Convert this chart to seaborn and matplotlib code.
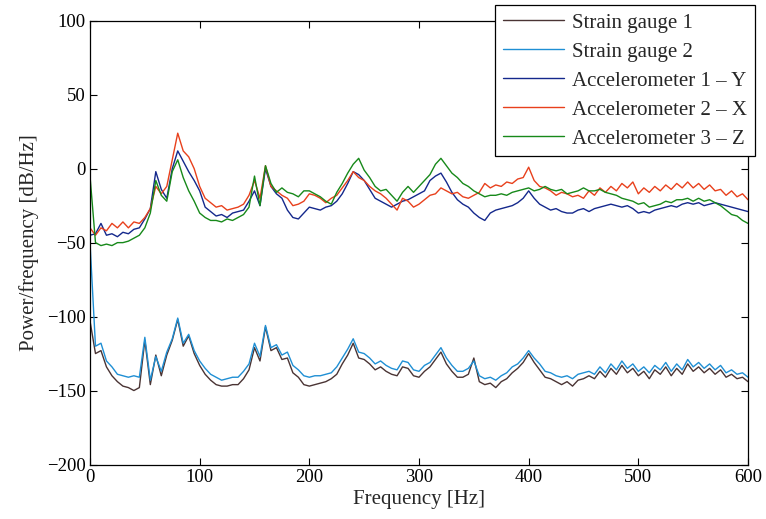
import numpy as np
import pandas as pd
import matplotlib
matplotlib.use("Agg")
import matplotlib.pyplot as plt
import seaborn as sns

# Frequency grid [Hz]
freq = list(range(0, 601, 5))

# Power spectral density estimates [dB/Hz]
strain_gauge_1 = [
    -103, -125, -123, -134, -140, -144, -147, -148, -150, -148,
    -116, -146, -126, -140, -126, -116, -102, -120, -113, -125,
    -133, -139, -143, -146, -147, -147, -146, -146, -142, -136,
    -121, -130, -107, -123, -121, -129, -128, -138, -141, -146,
    -147, -146, -145, -144, -142, -139, -132, -126, -118, -128,
    -129, -132, -136, -134, -137, -139, -140, -134, -135, -140,
    -141, -137, -134, -129, -124, -132, -137, -141, -141, -139,
    -128, -144, -146, -145, -148, -144, -142, -138, -135, -131,
    -125, -131, -136, -141, -142, -144, -146, -144, -147, -143,
    -142, -140, -142, -137, -141, -135, -139, -133, -138, -135,
    -140, -137, -142, -136, -139, -134, -140, -135, -139, -132,
    -137, -134, -138, -135, -139, -136, -141, -139, -142, -141,
    -144,
]
strain_gauge_2 = [
    -50, -120, -118, -130, -134, -139, -140, -141, -140, -141,
    -114, -143, -127, -137, -124, -115, -101, -118, -112, -123,
    -130, -135, -139, -141, -143, -142, -141, -141, -137, -132,
    -118, -127, -106, -121, -119, -126, -124, -133, -136, -140,
    -141, -140, -140, -139, -138, -134, -128, -122, -115, -124,
    -125, -128, -132, -130, -133, -135, -136, -130, -131, -136,
    -137, -133, -131, -126, -121, -128, -133, -137, -137, -135,
    -130, -140, -142, -141, -143, -140, -138, -134, -132, -128,
    -123, -128, -132, -137, -138, -140, -141, -140, -142, -139,
    -138, -137, -139, -134, -138, -132, -136, -130, -135, -132,
    -137, -134, -138, -133, -136, -131, -137, -132, -136, -129,
    -134, -131, -135, -132, -136, -133, -138, -136, -139, -138,
    -141,
]
accel_1_y = [
    -45, -44, -37, -45, -44, -46, -43, -44, -41, -40,
    -34, -27, -2, -14, -20, 0, 12, 5, -2, -8,
    -15, -26, -29, -32, -31, -33, -30, -29, -28, -22,
    -15, -25, 0, -12, -17, -20, -28, -33, -34, -30,
    -26, -27, -28, -26, -25, -22, -17, -10, -2, -4,
    -8, -14, -20, -22, -24, -26, -24, -22, -21, -19,
    -17, -15, -8, -5, -3, -9, -16, -21, -24, -26,
    -30, -33, -35, -30, -28, -27, -26, -25, -23, -20,
    -15, -20, -24, -26, -28, -27, -29, -30, -30, -28,
    -27, -29, -27, -26, -25, -24, -25, -26, -25, -27,
    -30, -29, -30, -28, -27, -26, -25, -26, -24, -23,
    -24, -23, -25, -24, -23, -24, -25, -26, -27, -28,
    -29,
]
accel_2_x = [
    -40, -45, -40, -42, -37, -40, -36, -40, -36, -37,
    -33, -27, -12, -17, -12, 6, 24, 12, 8, 0,
    -12, -20, -23, -26, -25, -28, -27, -26, -24, -18,
    -8, -20, 2, -12, -15, -18, -20, -25, -24, -22,
    -17, -18, -20, -23, -20, -18, -13, -8, -2, -6,
    -8, -12, -15, -17, -20, -24, -28, -20, -22, -26,
    -24, -21, -18, -17, -13, -15, -17, -16, -19, -20,
    -18, -16, -10, -13, -11, -12, -9, -10, -7, -6,
    1, -8, -12, -13, -15, -18, -16, -17, -19, -18,
    -20, -15, -18, -13, -16, -12, -15, -10, -13, -9,
    -17, -13, -16, -12, -15, -11, -14, -10, -13, -9,
    -13, -10, -14, -11, -15, -14, -18, -15, -19, -17,
    -21,
]
accel_3_z = [
    -5, -50, -52, -51, -52, -50, -50, -49, -47, -45,
    -40, -30, -8, -18, -22, -2, 6, -6, -15, -22,
    -30, -33, -35, -35, -36, -34, -35, -33, -31, -26,
    -5, -25, 2, -10, -16, -13, -16, -17, -19, -15,
    -15, -17, -19, -22, -24, -16, -10, -3, 3, 7,
    -1, -6, -12, -15, -14, -18, -22, -16, -12, -16,
    -12, -8, -4, 3, 7, 2, -3, -6, -10, -12,
    -15, -17, -19, -18, -18, -17, -18, -16, -15, -14,
    -13, -15, -14, -12, -14, -15, -14, -17, -16, -15,
    -13, -15, -15, -14, -16, -17, -18, -20, -21, -22,
    -24, -23, -26, -25, -24, -22, -23, -21, -21, -20,
    -22, -20, -22, -21, -23, -25, -28, -31, -32, -35,
    -37,
]

labels = [
    "Strain gauge 1",
    "Strain gauge 2",
    "Accelerometer 1 \u2013 Y",
    "Accelerometer 2 \u2013 X",
    "Accelerometer 3 \u2013 Z",
]
series = [strain_gauge_1, strain_gauge_2, accel_1_y, accel_2_x, accel_3_z]
colors = ["#4a3434", "#1f8fd4", "#14288c", "#e8401c", "#17891a"]

df = pd.concat(
    [pd.DataFrame({"Frequency": freq, "PSD": vals, "Sensor": name})
     for name, vals in zip(labels, series)],
    ignore_index=True,
)

sns.set_style("ticks")
plt.rcParams["font.family"] = ["Liberation Serif", "DejaVu Serif"]

fig = plt.figure(figsize=(7.66, 5.19), dpi=100)
ax = fig.add_axes([0.1175, 0.105, 0.859, 0.855])

sns.lineplot(
    data=df, x="Frequency", y="PSD", hue="Sensor",
    hue_order=labels, palette=dict(zip(labels, colors)),
    estimator=None, sort=True, linewidth=1.0, ax=ax, legend=True,
)

ax.set_xlim(0, 600)
ax.set_ylim(-200, 100)
ax.set_xticks(range(0, 601, 100))
ax.set_yticks(range(-200, 101, 50))
ax.set_yticklabels([str(v).replace("-", "\u2212") for v in range(-200, 101, 50)])
ax.set_xlabel("Frequency [Hz]", fontsize=15, labelpad=3)
ax.set_ylabel("Power/frequency [dB/Hz]", fontsize=15, labelpad=6)
ax.tick_params(direction="in", top=True, right=True, labelsize=13.5,
               length=5, width=0.8, colors="black", pad=3)
for sp in ax.spines.values():
    sp.set_visible(True)
    sp.set_linewidth(0.9)
    sp.set_color("black")

handles, hl = ax.get_legend_handles_labels()
leg = ax.legend(
    handles, hl, loc="upper right", bbox_to_anchor=(0.9856, 0.990),
    bbox_transform=fig.transFigure, fontsize=15, frameon=True,
    fancybox=False, edgecolor="black", framealpha=1.0,
    handlelength=2.9, handletextpad=0.4, labelspacing=0.45,
    borderpad=0.38, borderaxespad=0.0,
)
leg.get_frame().set_linewidth(0.9)
for line in leg.get_lines():
    line.set_linewidth(1.0)

fig.savefig("out.png", dpi=100)
